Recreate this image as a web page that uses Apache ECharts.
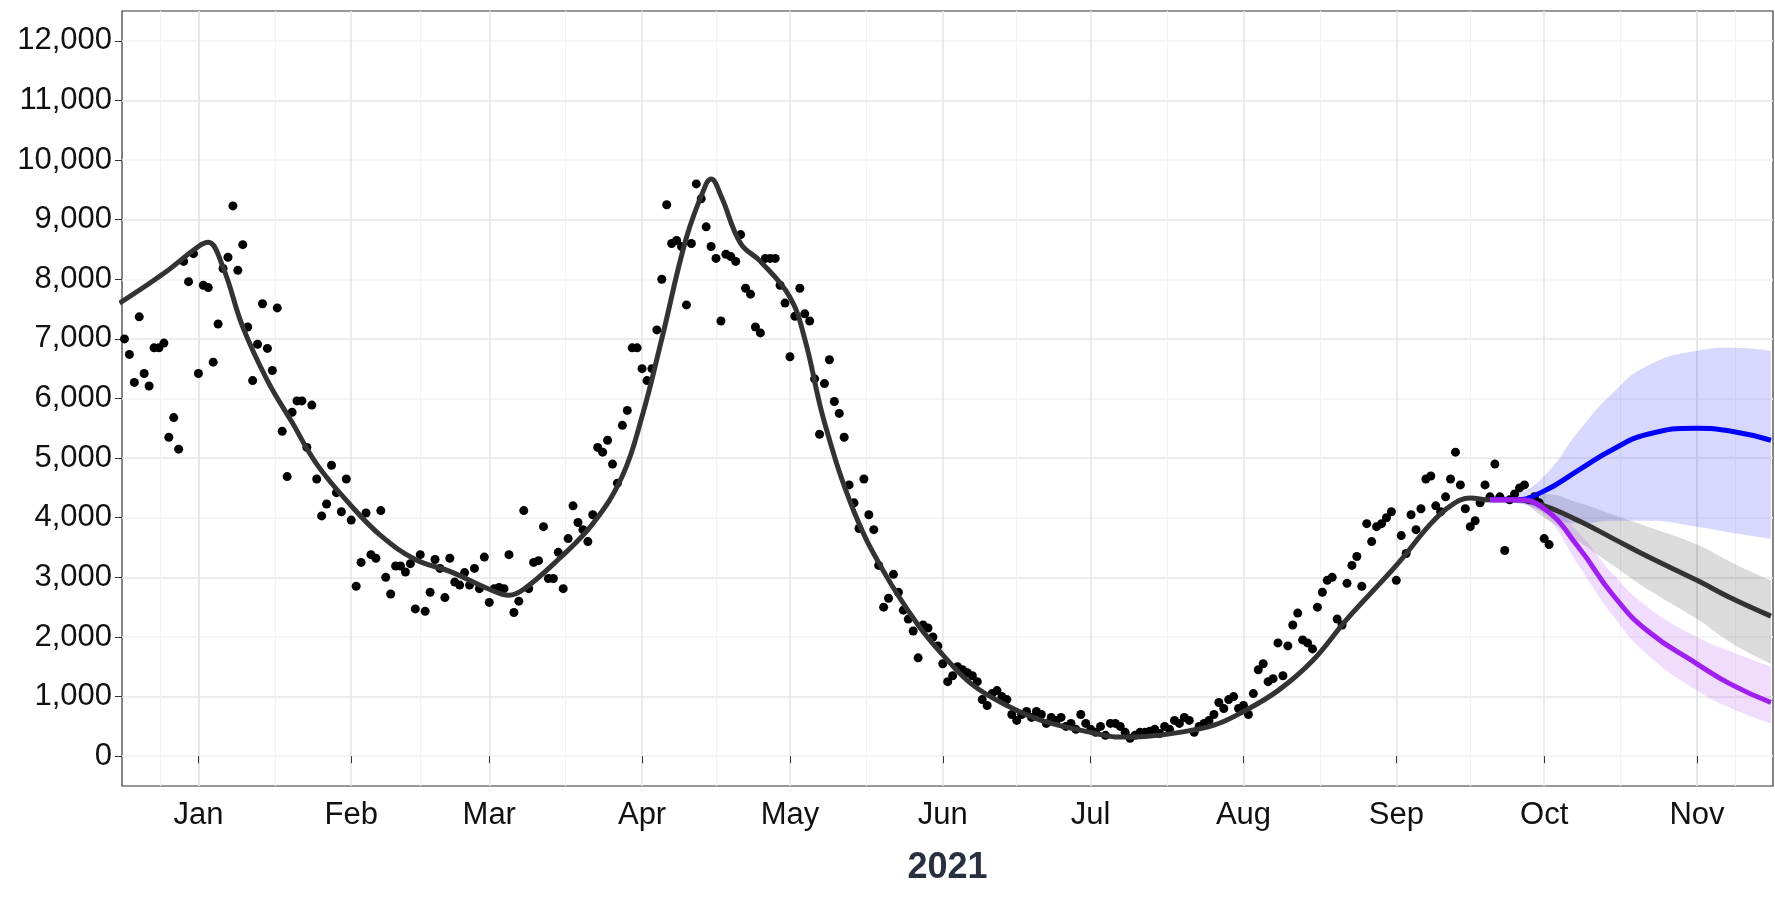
<!DOCTYPE html>
<html lang="en">
<head>
    <meta charset="UTF-8">
    <title>2021</title>
    <script src="https://cdn.jsdelivr.net/npm/echarts@6/dist/echarts.min.js"></script>
    <style>html,body{margin:0;padding:0;background:#fff;}</style>
</head>
<body>
<div id="chart" style="width:1775px;height:901px;"></div>
<script type="text/javascript">
    // daily counts, first value is 2020-12-17
    var firstDay = '2020-12-17';
    var daily = [
        7000,6740,6270,7370,6420,6210,6850,6850,6930,5350,5680,5150,8300,7960,8430,
        6420,7900,7860,6610,7250,8180,8370,9230,8150,8580,7200,6300,6910,7590,6840,6470,7520,5450,4690,5770,5960,5960,5180,5890,4650,4030,4230,4880,4420,4100,4650,
        3960,2850,3250,4080,3380,3320,4120,3000,2720,3190,3190,3090,3230,2470,3380,2430,2750,3300,3150,2660,3320,2920,2870,3080,2870,3150,2810,3340,
        2580,2810,2830,2810,3380,2410,2600,4120,2810,3250,3280,3850,2980,2980,3420,2810,3650,4200,3920,3800,3600,4050,5180,5100,5300,4900,4580,5550,5800,6850,6850,
        6500,6300,6500,7150,8000,9250,8600,8650,8550,7570,8600,9600,9350,8880,8550,8350,7300,8420,8380,8300,8750,7850,7750,7200,7100,8350,8350,8350,7900,7600,
        6700,7380,7850,7420,7300,6330,5400,6250,6650,5950,5750,5350,4550,4250,3820,4650,4050,3800,3200,2500,2650,3050,2750,2450,2300,2100,1650,2200,2150,2000,1850,
        1550,1250,1350,1500,1450,1400,1350,1250,950,850,1050,1100,1000,950,700,600,700,750,650,750,700,550,650,600,650,500,550,450,700,550,
        450,400,500,350,550,550,500,400,300,350,400,400,420,450,380,500,450,600,550,650,600,400,500,550,600,700,900,800,950,1000,800,
        850,700,1050,1450,1550,1250,1300,1900,1350,1850,2200,2400,1950,1900,1800,2500,2750,2950,3000,2300,2200,2900,3200,3350,2850,3900,3600,3850,3900,4000,
        4100,2950,3700,3400,4050,3800,4150,4650,4700,4200,4100,4350,4650,5100,4550,4150,3850,3950,4250,4550,4350,4900,4350,3450,4300,4400,4500,4550,4300,4350,
        4250,3650,3550
    ];

    // smoothed trend (black), incl. its projection
    var trendDates = ['2020-12-16','2020-12-25','2021-01-01','2021-01-03','2021-01-06','2021-01-10','2021-01-15','2021-01-20','2021-01-25','2021-02-01','2021-02-07','2021-02-14','2021-02-21','2021-03-01','2021-03-05','2021-03-08','2021-03-15','2021-03-22','2021-03-28','2021-04-01','2021-04-05','2021-04-10','2021-04-14','2021-04-15','2021-04-17','2021-04-21','2021-04-25','2021-05-01','2021-05-04','2021-05-08','2021-05-14','2021-05-20','2021-05-27','2021-06-01','2021-06-07','2021-06-14','2021-06-21','2021-07-01','2021-07-07','2021-07-12','2021-07-19','2021-07-26','2021-08-01','2021-08-08','2021-08-15','2021-08-22','2021-09-01','2021-09-08','2021-09-12','2021-09-16','2021-09-20','2021-09-25','2021-10-01','2021-10-08','2021-10-15','2021-10-22','2021-11-01','2021-11-08','2021-11-16'];
    var trendValues = [7600,8100,8550,8620,8200,7200,6300,5600,4900,4200,3700,3300,3100,2800,2700,2800,3300,3900,4700,5700,7000,8700,9600,9680,9400,8600,8300,7700,7000,5600,4100,3100,2200,1700,1200,850,600,400,320,330,400,520,750,1100,1600,2300,3200,3900,4200,4330,4300,4300,4200,3950,3650,3350,2950,2650,2350];

    // projection bands and scenario lines
    var projDates = ['2021-09-20','2021-09-25','2021-10-01','2021-10-08','2021-10-15','2021-10-22','2021-11-01','2021-11-08','2021-11-16'];
    var grayLow  = [4300,4280,4000,3600,3200,2800,2300,1900,1550];
    var grayHigh = [4350,4350,4400,4250,4050,3850,3550,3250,2950];
    var blueLine = [4300,4300,4450,4800,5150,5400,5500,5450,5300];
    var blueLow  = [4280,4250,4100,3900,3950,3950,3850,3750,3650];
    var blueHigh = [4350,4400,4700,5450,6100,6550,6800,6850,6800];
    var purpleLine = [4300,4300,4150,3500,2700,2100,1550,1200,900];
    var purpleLow  = [4280,4250,4050,3200,2350,1700,1100,800,550];
    var purpleHigh = [4350,4350,4250,3750,3050,2500,2000,1750,1500];

    var monthTicks = ['2021-01-01','2021-02-01','2021-03-01','2021-04-01','2021-05-01','2021-06-01','2021-07-01','2021-08-01','2021-09-01','2021-10-01','2021-11-01'];
    var yTicks = [0,1000,2000,3000,4000,5000,6000,7000,8000,9000,10000,11000,12000];
    var monthNames = ['Jan','Feb','Mar','Apr','May','Jun','Jul','Aug','Sep','Oct','Nov','Dec'];

    var day = 86400000;
    var start = new Date(firstDay + 'T00:00:00').getTime();
    var points = daily.map(function (v, i) { return [start + i * day, v]; });
    function pairs(d, v) { return d.map(function (x, i) { return [x, v[i]]; }); }
    function diff(d, lo, hi) { return d.map(function (x, i) { return [x, hi[i] - lo[i]]; }); }

    function band(name, lo, hi, color) {
        return [
            { name: name + 'lo', type: 'line', stack: name, data: pairs(projDates, lo), smooth: true,
              symbol: 'none', lineStyle: { opacity: 0 }, silent: true, z: 1 },
            { name: name + 'hi', type: 'line', stack: name, data: diff(projDates, lo, hi), smooth: true,
              symbol: 'none', lineStyle: { opacity: 0 }, areaStyle: { color: color, opacity: 1 }, silent: true, z: 1 }
        ];
    }

    var chart = echarts.init(document.getElementById('chart'));
    var option = {
        animation: false,
        grid: { left: 122, right: 2, top: 11, bottom: 115, show: true, borderColor: '#333', borderWidth: 1.2 },
        xAxis: {
            type: 'time',
            min: new Date('2020-12-16T12:00:00').getTime(),
            max: new Date('2021-11-16T10:00:00').getTime(),
            minInterval: 28 * day, maxInterval: 31 * day,
            name: '2021', nameLocation: 'middle', nameGap: 64,
            nameTextStyle: { fontFamily: 'Liberation Sans', fontSize: 36, fontWeight: 'bold', color: '#283040' },
            axisLine: { show: false },
            axisTick: { show: true, length: 7, lineStyle: { color: '#333' },
                customValues: monthTicks.map(function (d) { return new Date(d + 'T00:00:00').getTime(); }) },
            axisLabel: { fontFamily: 'Liberation Sans', fontSize: 31, color: '#111', margin: 14,
                showMinLabel: false, showMaxLabel: false,
                formatter: function (v) { return monthNames[new Date(v).getMonth()]; } },
            splitLine: { show: true, lineStyle: { color: '#e6e6e6', width: 1.6 } },
            minorTick: { show: false, splitNumber: 2 },
            minorSplitLine: { show: true, lineStyle: { color: '#f2f2f2', width: 1 } }
        },
        yAxis: {
            type: 'value', min: -500, max: 12500, interval: 500,
            axisLine: { show: false },
            axisTick: { show: true, length: 7, lineStyle: { color: '#333' }, customValues: yTicks },
            axisLabel: { fontFamily: 'Liberation Sans', fontSize: 31, color: '#111', margin: 10,
                formatter: function (v) { return v % 1000 === 0 ? v.toLocaleString('en-US') : ''; } },
            splitLine: { show: true, lineStyle: { color: ['#f2f2f2', '#e6e6e6'], width: 1.6 } }
        },
        series: [].concat(
            band('gray', grayLow, grayHigh, 'rgba(0,0,0,0.14)'),
            band('blue', blueLow, blueHigh, 'rgba(60,60,255,0.2)'),
            band('purple', purpleLow, purpleHigh, 'rgba(170,60,240,0.18)'),
            [
                { name: 'points', type: 'scatter', data: points, symbolSize: 9,
                  itemStyle: { color: '#000', opacity: 1 }, z: 3 },
                { name: 'trend', type: 'line', data: pairs(trendDates, trendValues), smooth: 0.4, symbol: 'none',
                  lineStyle: { color: '#333', width: 5 }, z: 4 },
                { name: 'blue', type: 'line', data: pairs(projDates, blueLine), smooth: true, symbol: 'none',
                  lineStyle: { color: '#0000ff', width: 5 }, z: 5 },
                { name: 'purple', type: 'line', data: pairs(projDates, purpleLine), smooth: true, symbol: 'none',
                  lineStyle: { color: '#a020f0', width: 5 }, z: 5 }
            ]
        )
    };
    chart.setOption(option);
</script>
</body>
</html>
